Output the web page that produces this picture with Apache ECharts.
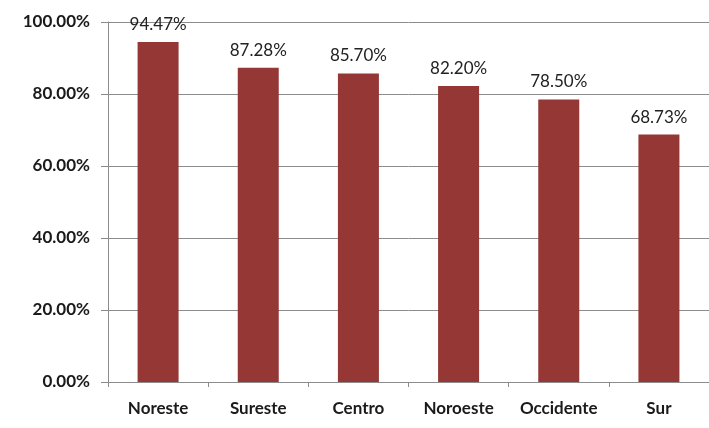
<!DOCTYPE html>
<html><head><meta charset="utf-8">
<script src="https://cdn.jsdelivr.net/npm/echarts@6/dist/echarts.min.js"></script>
<style>html,body{margin:0;padding:0;background:#fff;}#c{width:709px;height:428px;}</style>
</head><body><div id="c"></div>
<script>
const categories = ["Noreste", "Sureste", "Centro", "Noroeste", "Occidente", "Sur"];
const values = [94.47, 87.28, 85.70, 82.20, 78.50, 68.73];
const yTicks = [0, 20, 40, 60, 80, 100];

const chart = echarts.init(document.getElementById('c'));
chart.setOption({
  animation: false,
  grid: { left: 108, top: 22, width: 607, height: 360 },
  xAxis: {
    type: 'category',
    data: categories,
    axisLine: { lineStyle: { color: '#8c8c8c', width: 1 } },
    axisTick: { show: true, interval: 0, length: 5, lineStyle: { color: '#8c8c8c' } },
    axisLabel: { interval: 0, margin: 18, color: '#1a1a1a', fontWeight: 'bold', fontSize: 17, fontFamily: 'Lato' }
  },
  yAxis: {
    type: 'value',
    min: 0, max: 100, interval: 20,
    axisLine: { show: true, lineStyle: { color: '#8c8c8c', width: 1 } },
    axisTick: { show: true, length: 7, lineStyle: { color: '#8c8c8c' } },
    splitLine: { lineStyle: { color: '#8c8c8c', width: 1 } },
    axisLabel: {
      margin: 18, color: '#1a1a1a', fontWeight: 'bold', fontSize: 17, fontFamily: 'Lato',
      formatter: v => yTicks.includes(v) ? v.toFixed(2) + '%' : ''
    }
  },
  series: [{
    type: 'bar',
    data: values,
    barWidth: 41,
    itemStyle: { color: '#953735' },
    label: {
      show: true, position: 'top', distance: 9,
      color: '#222', fontSize: 17, fontFamily: 'Lato',
      formatter: p => p.value.toFixed(2) + '%'
    }
  }]
});
</script></body></html>
